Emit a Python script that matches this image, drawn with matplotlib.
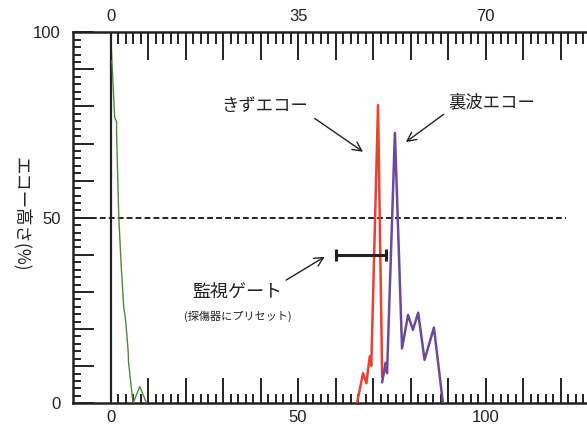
import matplotlib
matplotlib.use('Agg')
import matplotlib.pyplot as plt
from matplotlib.ticker import MultipleLocator, FixedLocator

# fonts: Japanese labels and narrow digits for the tick labels
jp_font = ['Noto Sans CJK JP', 'DejaVu Sans']
num_font = ['Liberation Sans Narrow', 'Liberation Sans', 'DejaVu Sans']

# initial pulse (green)
green_x = [0.0, 1.1, 1.6, 1.6, 2.2, 2.9, 3.1, 3.5, 3.8, 4.1, 4.7, 4.8, 6.0, 7.8, 9.6]
green_y = [100, 77, 76, 73, 50, 36, 33, 26, 24, 21.5, 14, 11, 0, 4.5, 0]

# flaw echo (red)
flaw_x = [65.7, 67.3, 68.2, 69.1, 69.5, 71.3, 72.4]
flaw_y = [0, 8.1, 5.4, 12.7, 10.1, 80.4, 7.2]

# back-side echo (purple)
back_x = [72.4, 73.3, 73.7, 75.8, 77.7, 79.3, 80.6, 82.0, 83.7, 86.2, 88.6]
back_y = [5.7, 10.9, 8.1, 72.9, 14.8, 23.8, 19.8, 24.4, 11.7, 20.4, 0]

# monitoring gate and threshold line
gate_start, gate_end, gate_level = 60.0, 73.4, 40.0
threshold, threshold_end = 50, 121.5

# tick labels
x_ticks = [0, 50, 100]
x_labels = ['0', '50', '100']
top_labels = ['0', '35', '70']
y_ticks = [0, 50, 100]
y_labels = ['0', '50', '100']

dark = '#222222'

fig = plt.figure(figsize=(5.87, 4.29), dpi=100)
ax = fig.add_axes([0.1244, 0.060, 0.8756, 0.8647])
ax.set_xlim(-10, 127)
ax.set_ylim(0, 100)

# curves
ax.plot(green_x, green_y, color='#4e8a35', lw=1.0, zorder=3)
ax.plot(flaw_x, flaw_y, color='#e8432e', lw=1.8, zorder=3)
ax.plot(back_x, back_y, color='#6a4a9c', lw=1.8, zorder=3)

# x = 0 line and threshold
ax.axvline(0, color=dark, lw=1.6, zorder=2)
ax.plot([-10, threshold_end], [threshold, threshold], color=dark, lw=1.4,
        dashes=(3, 1.6), zorder=2)

# gate bar with end caps
ax.plot([gate_start, gate_end], [gate_level, gate_level], color=dark, lw=2.2,
        solid_capstyle='butt', zorder=4)
ax.plot([gate_start, gate_end], [gate_level, gate_level], ls='none', marker='|',
        ms=9, mew=2.2, color=dark, zorder=4)

# annotations
arrow = dict(arrowstyle='->', lw=1.0, color=dark, mutation_scale=16,
             shrinkA=0, shrinkB=0)
ax.text(41.1, 80.0, 'きずエコー', family=jp_font, fontsize=12.5, color=dark,
        ha='center', va='center')
ax.annotate('', xy=(67.3, 67.8), xytext=(54.4, 76.8), arrowprops=arrow)
ax.text(101.6, 81.0, '裏波エコー', family=jp_font, fontsize=12.5, color=dark,
        ha='center', va='center')
ax.annotate('', xy=(78.7, 70.4), xytext=(88.8, 77.9), arrowprops=arrow)
ax.text(33.8, 30.1, '監視ゲート', family=jp_font, fontsize=13, color=dark,
        ha='center', va='center')
ax.text(33.8, 23.5, '(探傷器にプリセット)', family=jp_font, fontsize=8,
        color=dark, ha='center', va='center')
ax.annotate('', xy=(57.1, 39.5), xytext=(46.8, 33.2), arrowprops=arrow)

# y label, read top to bottom
fig.text(0.037, 0.50, 'エコー高さ(%)', family=jp_font, fontsize=12.5,
         color=dark, rotation=270, ha='center', va='center')

# spines
for side in ['left', 'bottom', 'top']:
    ax.spines[side].set_linewidth(1.8)
    ax.spines[side].set_color(dark)
ax.spines['right'].set_visible(False)

# bottom and left ticks
ax.xaxis.set_major_locator(FixedLocator(list(range(0, 127, 10))))
ax.xaxis.set_minor_locator(FixedLocator(list(range(0, 127, 2))))
ax.set_xticks(list(range(0, 127, 10)))
ax.set_xticklabels([x_labels[x_ticks.index(v)] if v in x_ticks else ''
                    for v in range(0, 127, 10)])
ax.yaxis.set_major_locator(MultipleLocator(10))
ax.yaxis.set_minor_locator(MultipleLocator(2))
ax.set_yticks(list(range(0, 101, 10)))
ax.set_yticklabels([y_labels[y_ticks.index(v)] if v in y_ticks else ''
                    for v in range(0, 101, 10)])
ax.tick_params(axis='x', which='major', direction='in', length=18, width=1.4,
               color=dark, pad=5, labelsize=12, labelcolor=dark)
ax.tick_params(axis='x', which='minor', direction='in', length=6.5, width=1.4,
               color=dark)
ax.tick_params(axis='y', which='major', direction='in', length=15, width=1.4,
               color=dark, pad=9, labelsize=12, labelcolor=dark)
ax.tick_params(axis='y', which='minor', direction='in', length=6, width=1.4,
               color=dark)
for lab in ax.get_xticklabels() + ax.get_yticklabels():
    lab.set_family(num_font)

# top axis
ax2 = ax.twiny()
ax2.set_xlim(ax.get_xlim())
for side in ['left', 'bottom', 'right', 'top']:
    ax2.spines[side].set_visible(False)
ax2.set_xticks(list(range(0, 127, 10)))
ax2.set_xticklabels([top_labels[x_ticks.index(v)] if v in x_ticks else ''
                     for v in range(0, 127, 10)])
ax2.xaxis.set_minor_locator(FixedLocator(list(range(0, 127, 2))))
ax2.tick_params(axis='x', which='major', direction='in', length=20, width=1.4,
                color=dark, pad=6, labelsize=12, labelcolor=dark)
ax2.tick_params(axis='x', which='minor', direction='in', length=8.5, width=1.4,
                color=dark)
for lab in ax2.get_xticklabels():
    lab.set_family(num_font)

fig.savefig('out.png', dpi=100)
